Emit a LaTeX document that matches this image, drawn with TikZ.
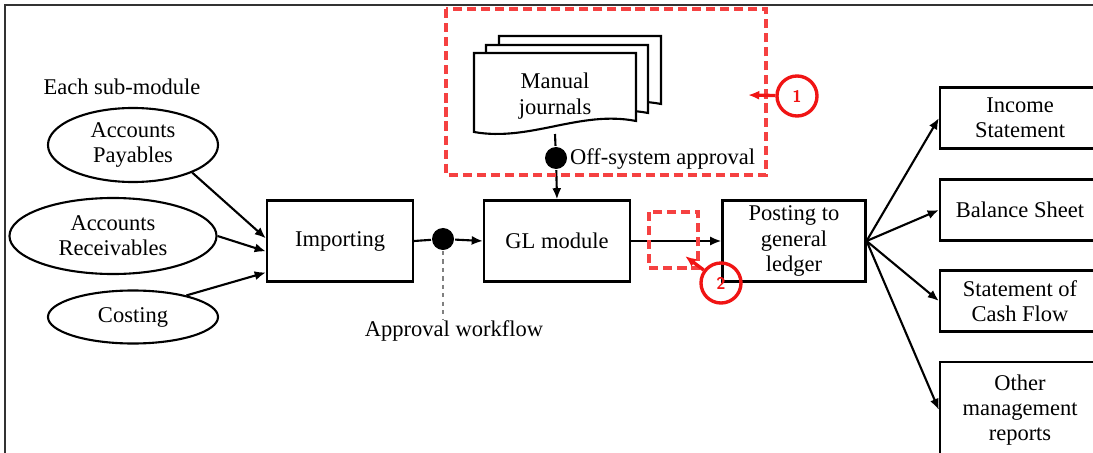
\documentclass[tikz,border=0pt]{standalone}
\usepackage{fontspec}
\setmainfont{Liberation Serif}
\usetikzlibrary{arrows.meta, shapes.geometric}
\definecolor{markred}{RGB}{240,20,20}
\definecolor{dashred}{RGB}{245,65,65}

\begin{document}
\begin{tikzpicture}[x=0.025cm, y=-0.025cm, line width=1.5pt,
		font=\fontsize{16}{18}\selectfont,
		box/.style={draw, rectangle, align=center, inner sep=0pt},
		elli/.style={draw, ellipse, align=center, inner sep=0pt},
		dot/.style={circle, fill, inner sep=0pt, minimum size=0.55cm},
		arr/.style={-{Latex[length=8pt,width=6.5pt]}},
		redmark/.style={draw=markred, line width=2.4pt, circle, minimum size=1cm, inner sep=0pt, text=markred, font=\sffamily\bfseries\fontsize{12}{14}\selectfont},
		reddash/.style={draw=dashred, line width=2.4pt, dash pattern=on 6.5pt off 3.5pt}]

		\useasboundingbox (0,0) rectangle (1093,453);
		\clip (0,0) rectangle (1093,453);

		% Frame
		\draw[line width=1.6pt, black!80] (5,460) -- (5,5) -- (1100,5);

		% Sub-modules
		\node (each) at (122,87) {Each sub-module};
		\node[elli, minimum width=4.25cm, minimum height=1.85cm] (ap) at (133,145) {Accounts\\Payables};
		\node[elli, minimum width=5.175cm, minimum height=1.9cm] (ar) at (113,236) {Accounts\\Receivables};
		\node[elli, minimum width=4.25cm, minimum height=1.325cm] (cost) at (133,317) {Costing};

		% Main chain
		\node[box, minimum width=3.65cm, minimum height=2.025cm] (imp) at (340,241) {Importing};
		\node[box, minimum width=3.65cm, minimum height=2.025cm] (gl) at (557,241) {GL module};
		\node[box, minimum width=3.575cm, minimum height=2.025cm] (post) at (794,241) {Posting to\\general\\ledger};

		\draw[arr] (ap.-25) -- (imp.178);
		\draw[arr] (ar.east) -- (imp.188);
		\draw[arr] (cost.22) -- (imp.203);

		% Approval workflow
		\node[dot] (apdot) at (443,239) {};
		\node (aplbl) at (454,331) {Approval workflow};
		\coordinate (apend) at (443,320);
		\draw (imp.east) -- (apdot);
		\draw[arr] (apdot) -- (gl.west);
		\draw[gray, dashed, line width=0.8pt] (apdot) -- (apend);
		\draw[arr] (gl.east) -- (post.west);

		% Manual journals
		\foreach \dx/\dy in {25/-17, 12/-8, 0/0}
			\draw[fill=white, shift={(\dx,\dy)}] (474,53) -- (636,53) -- (636,121)
				.. controls (580,110) and (530,142) .. (474,132) -- cycle;
		\node[align=center] (mj) at (555,96) {Manual\\journals};
		\coordinate (mjbot) at (555,134);
		\node[dot] (offdot) at (556,158) {};
		\node[anchor=west, inner sep=0pt] (offlbl) at (569,159) {Off-system approval};
		\draw (mjbot) -- (offdot);
		\draw[arr] (offdot) -- (gl.north);

		% Reports
		\node[box, minimum width=4cm, minimum height=1.525cm] (inc) at (1020,118) {Income\\Statement};
		\node[box, minimum width=4cm, minimum height=1.525cm] (bal) at (1020,210) {Balance Sheet};
		\node[box, minimum width=4cm, minimum height=1.525cm] (csh) at (1020,301) {Statement of\\Cash Flow};
		\node[box, minimum width=4cm, minimum height=2.4cm] (oth) at (1020,410) {Other\\management\\reports};
		\foreach \r in {inc,bal,csh,oth}
			\draw[arr] (post.east) -- (\r.west);

		% Markers
		\draw[reddash] (446,9) rectangle (766,175);
		\node[redmark] (m1) at (797,96) {1};
		\coordinate (m1tip) at (748,95);
		\draw[arr, markred, line width=2.4pt] (m1) -- (m1tip);

		\draw[reddash] (649,212) rectangle (698,268);
		\node[redmark] (m2) at (721,283) {2};
		\coordinate (m2tip) at (685,256);
		\draw[arr, markred, line width=2.4pt] (m2) -- (m2tip);
	\end{tikzpicture}
\end{document}
